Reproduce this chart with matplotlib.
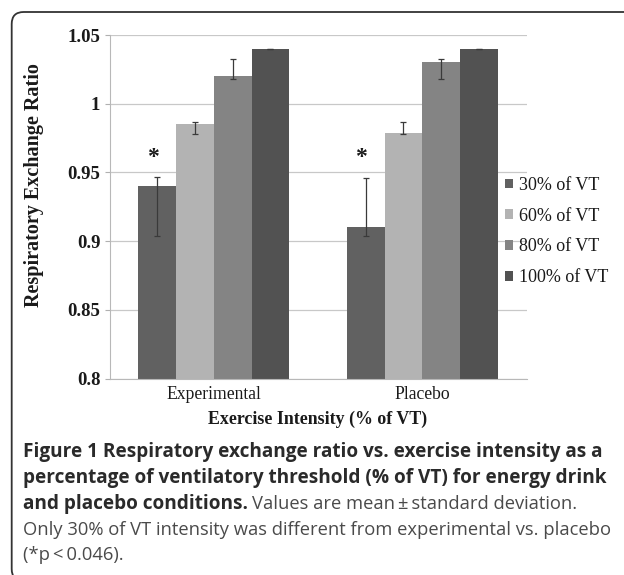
import numpy as np
import matplotlib
matplotlib.use("Agg")
import matplotlib.pyplot as plt
from matplotlib.patches import FancyBboxPatch
from matplotlib.transforms import IdentityTransform

groups = ['Experimental', 'Placebo']
series = ['30% of VT', '60% of VT', '80% of VT', '100% of VT']
exp_means = [0.94, 0.985, 1.02, 1.04]
plc_means = [0.91, 0.979, 1.03, 1.04]
exp_err_lo = [0.036, 0.007, 0.002, 0.0]
exp_err_hi = [0.0065, 0.002, 0.0125, 0.0]
plc_err_lo = [0.006, 0.001, 0.012, 0.0]
plc_err_hi = [0.036, 0.0075, 0.0025, 0.0]
star_series = 0
star_y = 0.9606
yticks = [0.8, 0.85, 0.9, 0.95, 1.0, 1.05]
ytick_labels = ['0.8', '0.85', '0.9', '0.95', '1', '1.05']
colors = ['#616161', '#b3b3b3', '#848484', '#525252']

serif = 'Liberation Serif'
sans = 'Open Sans'

fig = plt.figure(figsize=(6.24, 5.75), dpi=100)
ax = fig.add_axes([0.1755, 0.3417, 0.6683, 0.5974])

x = np.arange(len(groups))
w = 0.181
bars = []
for i, name in enumerate(series):
    vals = [exp_means[i], plc_means[i]]
    err = [[exp_err_lo[i], plc_err_lo[i]], [exp_err_hi[i], plc_err_hi[i]]]
    b = ax.bar(x + (i - 1.5) * w, vals, w, color=colors[i], label=name, zorder=2,
               yerr=err, error_kw=dict(ecolor='#3a3a3a', elinewidth=0.9, capsize=2.5, capthick=0.9))
    bars.append(b)
    if i == star_series:
        for xi in x:
            ax.text(xi + (i - 1.5) * w - 0.022, star_y, '*', ha='center', va='center',
                    fontsize=17, fontweight='bold', family=serif, color='#1a1a1a')

ax.set_xlim(-0.5, 1.5)
ax.set_ylim(0.8, 1.05)
ax.set_yticks(yticks)
ax.set_yticklabels(ytick_labels, family=serif, fontweight='bold', fontsize=13.5)
ax.set_xticks(x)
ax.set_xticklabels(groups, family=serif, fontsize=12.7)
ax.tick_params(axis='x', length=0, pad=5.5, colors='#1a1a1a')
ax.tick_params(axis='y', length=3.6, width=0.8, color='#b0b0b0', pad=3, labelcolor='#1a1a1a')
ax.yaxis.grid(True, color='#c8c8c8', linewidth=0.9, zorder=0)
ax.set_axisbelow(True)
for s in ['top', 'right']:
    ax.spines[s].set_visible(False)
ax.spines['left'].set_color('#b8b8b8')
ax.spines['bottom'].set_color('#b8b8b8')

ax.set_ylabel('Respiratory Exchange Ratio', family=serif, fontweight='bold', fontsize=14.5, color='#1a1a1a')
ax.yaxis.set_label_coords(-0.157, 0.563)
ax.set_xlabel('Exercise Intensity (% of VT)', family=serif, fontweight='bold', fontsize=12.9, color='#1a1a1a')
ax.xaxis.set_label_coords(0.5, -0.094)

leg = fig.legend(handles=bars, labels=series, loc='upper left', bbox_to_anchor=(505 / 624, 1 - 177 / 575),
                 frameon=False, prop={'family': serif, 'size': 13}, handlelength=0.45, handleheight=0.45,
                 handletextpad=0.3, labelspacing=0.76, borderpad=0, borderaxespad=0)
for t in leg.get_texts():
    t.set_color('#1a1a1a')

# frame round the figure
frame = FancyBboxPatch((11.7, -6), 700, 575 - 12 + 6, boxstyle='round,pad=0,rounding_size=12',
                       transform=IdentityTransform(), fill=False, edgecolor='#333333', linewidth=1.3)
fig.add_artist(frame)

# caption
cx = 23 / 624
bold_col = '#2a2a2a'
reg_col = '#4a4a4a'
bold_size = 13.7
reg_size = 13.2
fig.text(cx, 1 - 457 / 575, 'Figure 1 Respiratory exchange ratio vs. exercise intensity as a',
         family=sans, fontweight='bold', fontsize=bold_size, color=bold_col, va='baseline')
fig.text(cx, 1 - 483 / 575, 'percentage of ventilatory threshold (% of VT) for energy drink',
         family=sans, fontweight='bold', fontsize=bold_size, color=bold_col, va='baseline')
t3 = fig.text(cx, 1 - 509 / 575, 'and placebo conditions.',
              family=sans, fontweight='bold', fontsize=bold_size, color=bold_col, va='baseline')
fig.canvas.draw()
bb = t3.get_window_extent(renderer=fig.canvas.get_renderer())
fig.text(bb.x1 / 624 + 0.006, 1 - 509 / 575, 'Values are mean\u2009\u00b1\u2009standard deviation.',
         family=sans, fontsize=reg_size, color=reg_col, va='baseline')
fig.text(cx, 1 - 535 / 575, 'Only 30% of VT intensity was different from experimental vs. placebo',
         family=sans, fontsize=reg_size, color=reg_col, va='baseline')
fig.text(cx, 1 - 560 / 575, '(*p\u2009<\u20090.046).',
         family=sans, fontsize=reg_size, color=reg_col, va='baseline')

fig.savefig('out.png', dpi=100)
